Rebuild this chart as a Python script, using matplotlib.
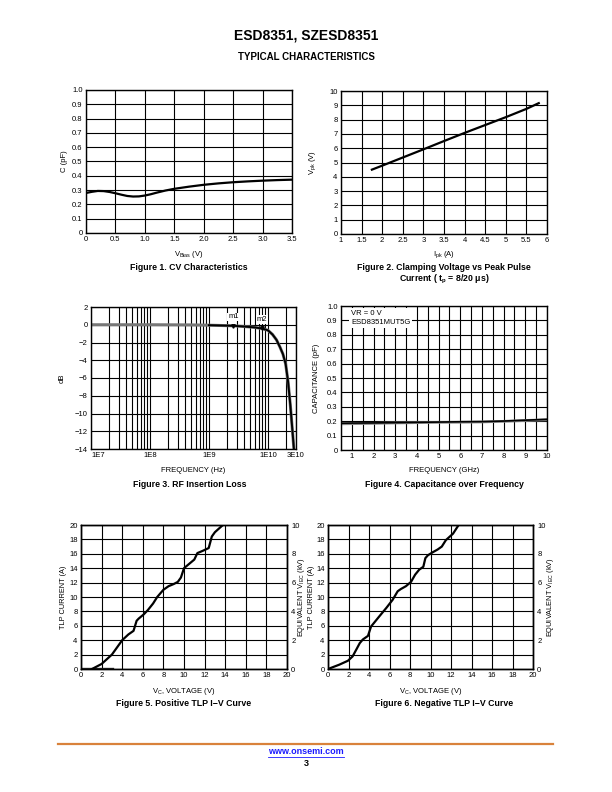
import matplotlib
matplotlib.use('Agg')
import matplotlib.pyplot as plt
from matplotlib.lines import Line2D
from matplotlib.ticker import FixedLocator, NullFormatter

plt.rcParams['font.family'] = ['Liberation Sans', 'DejaVu Sans']
plt.rcParams['mathtext.fontset'] = 'custom'
plt.rcParams['mathtext.rm'] = 'Liberation Sans'
plt.rcParams['mathtext.it'] = 'Liberation Sans:italic'
plt.rcParams['mathtext.bf'] = 'Liberation Sans:bold'

# Figura 1: CV
cv_v = [0, 0.1, 0.2, 0.3, 0.4, 0.5, 0.6, 0.7, 0.8, 0.9, 1.0, 1.1, 1.2, 1.35, 1.5,
        1.75, 2.0, 2.25, 2.5, 2.75, 3.0, 3.25, 3.5]
cv_c = [0.28, 0.288, 0.294, 0.293, 0.287, 0.278, 0.268, 0.259, 0.255, 0.256, 0.262,
        0.271, 0.282, 0.297, 0.309, 0.324, 0.337, 0.347, 0.355, 0.361, 0.366, 0.37, 0.373]

# Figura 2: tension de clamping
clamp_i = [1.75, 2.0, 2.5, 3.0, 3.5, 4.0, 4.5, 5.0, 5.5, 5.8]
clamp_v = [4.5, 4.78, 5.35, 5.92, 6.5, 7.07, 7.62, 8.17, 8.75, 9.15]

# Figura 3: perdidas de insercion
rf_f = [1e7, 1e8, 5e8, 1e9, 2e9, 2.6e9, 4e9, 6e9, 7.9e9, 1e10, 1.2e10, 1.4e10,
        1.6e10, 1.8e10, 2e10, 2.2e10, 2.4e10, 2.6e10, 2.78e10]
rf_db = [0, 0, -0.02, -0.05, -0.1, -0.12, -0.2, -0.3, -0.42, -0.62, -1.1, -1.7,
         -2.5, -3.3, -4.4, -6.4, -9.0, -11.8, -14.2]
marca_f = [2.6e9, 7.9e9]
marca_db = [-0.12, -0.42]
marca_txt = ['m1', 'm2']

# Figura 4: capacidad vs frecuencia
cap_ghz = [0.5, 1, 2, 3, 4, 5, 6, 7, 8, 9, 10]
cap_negra = [0.186, 0.187, 0.188, 0.19, 0.192, 0.194, 0.196, 0.197, 0.201, 0.207, 0.213]
cap_gris = [0.182, 0.183, 0.185, 0.188, 0.19, 0.192, 0.193, 0.195, 0.199, 0.205, 0.21]

# Figura 5: TLP positivo
pos_v = [1.07, 2.0, 3.0, 4.0, 4.6, 5.1, 5.25, 5.4, 5.6, 6.1, 6.5, 7.0, 7.4, 8.0, 8.5,
         9.0, 9.4, 9.7, 10.0, 10.5, 11.0, 11.3, 11.8, 12.4, 12.55, 12.7, 13.0, 13.7]
pos_i = [0, 0.7, 2.0, 4.0, 4.8, 5.3, 6.0, 6.7, 7.0, 7.6, 8.2, 9.1, 10.0, 11.0, 11.5,
         11.8, 12.1, 12.7, 14.0, 14.6, 15.2, 16.1, 16.4, 16.8, 17.6, 18.4, 19.0, 19.9]
fuga_v = [0, 3.0]
fuga_i = [0, 0]

# Figura 6: TLP negativo
neg_v = [0, 1.1, 1.95, 2.4, 2.8, 3.1, 3.4, 3.9, 4.2, 4.6, 5.0, 5.7, 6.3, 6.8, 7.1, 7.6,
         8.1, 8.5, 8.9, 9.3, 9.5, 9.75, 10.2, 10.7, 11.1, 11.5, 12.2, 12.7]
neg_i = [0, 0.6, 1.15, 1.75, 2.8, 3.6, 4.1, 4.6, 5.9, 6.6, 7.3, 8.5, 9.6, 10.8, 11.1,
         11.5, 12.1, 13.1, 13.8, 14.2, 15.4, 15.8, 16.2, 16.6, 17.0, 17.9, 18.8, 19.9]

W, H = 612, 792
TAM = 5.5      # tamano de las etiquetas
LW_GRID = 0.8


def caja(x0, y0, x1, y1):
    # pasa pixeles de la pagina a fracciones de figura
    return [x0 / W, 1 - y1 / H, (x1 - x0) / W, (y1 - y0) / H]


def pt(x, y):
    return x / W, 1 - y / H


def estilo(ax):
    ax.grid(True, which='both', color='black', lw=LW_GRID)
    ax.set_axisbelow(True)
    ax.tick_params(which='both', length=0, labelsize=TAM, pad=2.5)
    for s in ax.spines.values():
        s.set_linewidth(1.0)


fig = plt.figure(figsize=(W / 100, H / 100), dpi=100)

fig.text(*pt(306, 36), 'ESD8351, SZESD8351', ha='center', va='center',
         fontsize=10, fontweight='bold')
fig.text(*pt(306, 57), 'TYPICAL CHARACTERISTICS', ha='center', va='center',
         fontsize=7, fontweight='bold')

# ---- Figura 1 ----
ax1 = fig.add_axes(caja(86, 90, 292, 233))
ax1.plot(cv_v, cv_c, color='black', lw=1.6)
ax1.set_xlim(0, 3.5)
ax1.set_ylim(0, 1.0)
ax1.set_xticks([0, 0.5, 1.0, 1.5, 2.0, 2.5, 3.0, 3.5])
ax1.set_xticklabels(['0', '0.5', '1.0', '1.5', '2.0', '2.5', '3.0', '3.5'])
ax1.set_yticks([i / 10 for i in range(11)])
ax1.set_yticklabels(['0'] + ['%.1f' % (i / 10) for i in range(1, 11)])
estilo(ax1)
ax1.set_xlabel(r'V$_{\mathrm{Bias}}$ (V)', fontsize=TAM)
ax1.xaxis.set_label_coords(0.5, -0.115)
ax1.set_ylabel('C (pF)', fontsize=TAM)
ax1.yaxis.set_label_coords(-0.088, 0.5)
fig.text(*pt(189, 267), 'Figure 1. CV Characteristics', ha='center', va='center',
         fontsize=6.3, fontweight='bold')

# ---- Figura 2 ----
ax2 = fig.add_axes(caja(341, 91, 547, 234))
ax2.plot(clamp_i, clamp_v, color='black', lw=1.6)
ax2.set_xlim(1, 6)
ax2.set_ylim(0, 10)
ax2.set_xticks([1 + 0.5 * i for i in range(11)])
ax2.set_xticklabels(['1', '1.5', '2', '2.5', '3', '3.5', '4', '4.5', '5', '5.5', '6'])
ax2.set_yticks(range(11))
estilo(ax2)
ax2.set_xlabel(r'I$_{\mathrm{pk}}$ (A)', fontsize=TAM)
ax2.xaxis.set_label_coords(0.5, -0.105)
ax2.set_ylabel(r'V$_{\mathrm{pk}}$ (V)', fontsize=TAM)
ax2.yaxis.set_label_coords(-0.112, 0.5)
fig.text(*pt(444, 267), 'Figure 2. Clamping Voltage vs Peak Pulse', ha='center',
         va='center', fontsize=6.3, fontweight='bold')
fig.text(*pt(444, 279), r'Current ( $\mathbf{t_p}$ = 8/20 $\mathbf{\mu}$s)', ha='center',
         va='center', fontsize=6.3, fontweight='bold')

# ---- Figura 3 ----
ax3 = fig.add_axes(caja(91, 307, 296, 449))
ax3.set_xscale('log')
ax3.plot(rf_f, rf_db, color='#777777', lw=2.2)
f_alto = [f for f in rf_f if f >= 1e9]
db_alto = [d for f, d in zip(rf_f, rf_db) if f >= 1e9]
ax3.plot(f_alto, db_alto, color='black', lw=1.4)
ax3.plot(marca_f, marca_db, 'v', color='black', ms=2.5)
for f, d, t in zip(marca_f, marca_db, marca_txt):
    ax3.text(f, d + 1.0, t, ha='center', va='center', fontsize=TAM,
             bbox=dict(facecolor='white', edgecolor='none', pad=0.6))
ax3.set_xlim(1e7, 3e10)
ax3.set_ylim(-14, 2)
menores = []
for dec in [1e7, 1e8, 1e9, 1e10]:
    for k in range(2, 10):
        if k * dec <= 3e10:
            menores.append(k * dec)
ax3.xaxis.set_major_locator(FixedLocator([1e7, 1e8, 1e9, 1e10, 3e10]))
ax3.xaxis.set_minor_locator(FixedLocator(menores))
ax3.xaxis.set_minor_formatter(NullFormatter())
ax3.set_xticklabels(['1E7', '1E8', '1E9', '1E10', '3E10'])
ax3.get_xticklabels()[0].set_horizontalalignment('left')
ax3.set_yticks(range(-14, 3, 2))
estilo(ax3)
ax3.set_xlabel('FREQUENCY (Hz)', fontsize=TAM)
ax3.xaxis.set_label_coords(0.5, -0.125)
ax3.set_ylabel('dB', fontsize=TAM)
ax3.yaxis.set_label_coords(-0.122, 0.5)
fig.text(*pt(190, 484), 'Figure 3. RF Insertion Loss', ha='center', va='center',
         fontsize=6.3, fontweight='bold')

# ---- Figura 4 ----
ax4 = fig.add_axes(caja(341, 306, 547, 450))
ax4.plot(cap_ghz, cap_gris, color='#888888', lw=2.0)
ax4.plot(cap_ghz, cap_negra, color='black', lw=1.2)
ax4.set_xlim(0.5, 10)
ax4.set_ylim(0, 1.0)
ax4.set_xticks(range(1, 11))
ax4.xaxis.set_minor_locator(FixedLocator([0.5 * i for i in range(1, 21)]))
ax4.set_yticks([i / 10 for i in range(11)])
ax4.set_yticklabels(['0'] + ['%.1f' % (i / 10) for i in range(1, 11)])
estilo(ax4)
ax4.text(0.96, 0.975, 'VR = 0 V\nESD8351MUT5G', ha='left', va='top', fontsize=TAM,
         linespacing=1.5,
         bbox=dict(facecolor='white', edgecolor='none', pad=1.5))
ax4.set_xlabel('FREQUENCY (GHz)', fontsize=TAM)
ax4.xaxis.set_label_coords(0.5, -0.118)
ax4.set_ylabel('CAPACITANCE (pF)', fontsize=TAM)
ax4.yaxis.set_label_coords(-0.102, 0.5)
fig.text(*pt(444, 484), 'Figure 4. Capacitance over Frequency', ha='center',
         va='center', fontsize=6.3, fontweight='bold')


# ---- Figuras 5 y 6 ----
def tlp(ax, v, i, izq, dcha):
    ax.plot(v, i, color='black', lw=1.6)
    ax.set_xlim(0, 20)
    ax.set_ylim(0, 20)
    ax.set_xticks(range(0, 21, 2))
    ax.set_yticks(range(0, 21, 2))
    estilo(ax)
    ax.set_xlabel(r'V$_{\mathrm{C}}$, VOLTAGE (V)', fontsize=TAM)
    ax.xaxis.set_label_coords(0.5, -0.118)
    ax.set_ylabel('TLP CURRENT (A)', fontsize=5.3)
    ax.yaxis.set_label_coords(izq, 0.5)
    der = ax.twinx()
    der.set_ylim(0, 10)
    der.set_yticks(range(0, 11, 2))
    der.tick_params(length=0, labelsize=TAM, pad=3)
    der.set_ylabel(r'EQUIVALENT V$_{\mathrm{IEC}}$ (kV)', fontsize=5.3)
    der.yaxis.set_label_coords(dcha, 0.5)
    for s in der.spines.values():
        s.set_linewidth(1.0)
    return der


ax5 = fig.add_axes(caja(81, 525, 287, 669))
ax5.plot(fuga_v, fuga_i, color='#222222', lw=2.4)
tlp(ax5, pos_v, pos_i, -0.068, 1.043)
fig.text(*pt(184, 703), 'Figure 5. Positive TLP I\u2212V Curve', ha='center', va='center',
         fontsize=6.3, fontweight='bold')

ax6 = fig.add_axes(caja(328, 525, 533, 669))
tlp(ax6, neg_v, neg_i, -0.062, 1.059)
fig.text(*pt(444, 703), 'Figure 6. Negative TLP I\u2212V Curve', ha='center', va='center',
         fontsize=6.3, fontweight='bold')

# ---- pie de pagina ----
fig.add_artist(Line2D([58 / W, 553 / W], [1 - 744 / H, 1 - 744 / H],
                      color='#d9823b', lw=1.6))
fig.text(*pt(306, 752), 'www.onsemi.com', ha='center', va='center', fontsize=6.5,
         fontweight='bold', color='#1a1aff')
fig.add_artist(Line2D([268 / W, 344 / W], [1 - 757 / H, 1 - 757 / H],
                      color='#1a1aff', lw=0.6))
fig.text(*pt(306, 763), '3', ha='center', va='center', fontsize=6.5, fontweight='bold')

fig.savefig('out.png', dpi=100)
